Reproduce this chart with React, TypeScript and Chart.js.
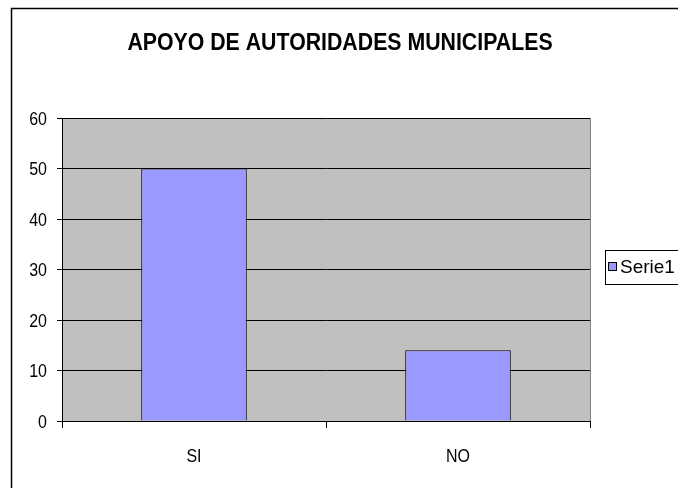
import React, { useEffect, useRef } from 'react';
import { Chart, registerables } from 'chart.js';

Chart.register(...registerables);

const categories = ['SI', 'NO'];
const serie1Values = [50, 14];
const seriesName = 'Serie1';
const chartTitle = 'APOYO DE AUTORIDADES MUNICIPALES';
const yMin = 0;
const yMax = 60;
const yStep = 10;

const FONT = "'Liberation Sans', Arial, sans-serif";
const STRETCH = 1.18;

function stretchedText(
  ctx: CanvasRenderingContext2D,
  text: string,
  x: number,
  baselineY: number,
  font: string,
  align: CanvasTextAlign,
  sy: number
) {
  ctx.save();
  ctx.font = font;
  ctx.textAlign = align;
  ctx.textBaseline = 'alphabetic';
  ctx.fillStyle = '#000000';
  ctx.translate(x, baselineY);
  ctx.scale(1, sy);
  ctx.fillText(text, 0, 0);
  ctx.restore();
}

export default function App() {
  const ref = useRef<HTMLCanvasElement>(null);

  useEffect(() => {
    const canvas = ref.current!;
    const decor = {
      id: 'decor',
      beforeDraw(chart: any) {
        const { ctx, chartArea: a } = chart;
        ctx.save();
        ctx.fillStyle = '#ffffff';
        ctx.fillRect(0, 0, chart.width, chart.height);
        ctx.strokeStyle = '#000000';
        ctx.lineWidth = 1.5;
        ctx.strokeRect(11.5, 8.5, 800, 600);
        ctx.fillStyle = '#c0c0c0';
        ctx.fillRect(a.left, a.top, a.right - a.left, a.bottom - a.top);
        ctx.restore();
      },
      afterDraw(chart: any) {
        const { ctx, chartArea: a } = chart;
        ctx.save();
        ctx.strokeStyle = '#808080';
        ctx.lineWidth = 1;
        ctx.beginPath();
        ctx.moveTo(a.right + 0.5, a.top);
        ctx.lineTo(a.right + 0.5, a.bottom);
        ctx.stroke();
        ctx.restore();

        // title
        stretchedText(ctx, chartTitle, 340, 50, `bold 21.3px ${FONT}`, 'center', 1.16);

        // y tick labels
        const ys = chart.scales.y;
        const tickSize = 16;
        const capHalf = (0.716 * tickSize * STRETCH) / 2;
        ys.ticks.forEach((t: any) => {
          const py = ys.getPixelForValue(t.value);
          stretchedText(ctx, String(t.value), a.left - 15, py + capHalf, `${tickSize}px ${FONT}`, 'right', STRETCH);
        });

        // x category labels
        const xs = chart.scales.x;
        categories.forEach((c, i) => {
          const px = xs.getPixelForValue(i);
          stretchedText(ctx, c, px, 462, `${tickSize}px ${FONT}`, 'center', STRETCH);
        });

        // legend
        ctx.save();
        ctx.fillStyle = '#ffffff';
        ctx.fillRect(605.5, 250.5, 120, 34);
        ctx.strokeStyle = '#000000';
        ctx.lineWidth = 1;
        ctx.strokeRect(605.5, 250.5, 120, 34);
        ctx.fillStyle = '#9999ff';
        ctx.fillRect(608.5, 262.5, 8, 8);
        ctx.strokeRect(608.5, 262.5, 8, 8);
        ctx.restore();
        stretchedText(ctx, seriesName, 620, 273, `19px ${FONT}`, 'left', 1.0);
      },
    };

    const chart = new Chart(canvas, {
      type: 'bar',
      data: {
        labels: categories,
        datasets: [
          {
            label: seriesName,
            data: serie1Values,
            backgroundColor: '#9999ff',
            borderColor: '#000000',
            borderWidth: 1,
            barPercentage: 0.4,
            categoryPercentage: 1,
          },
        ],
      },
      options: {
        responsive: false,
        animation: false,
        devicePixelRatio: 1,
        layout: { padding: { top: 118, right: 88, left: 0, bottom: 0 } },
        plugins: {
          legend: { display: false },
          title: { display: false },
          tooltip: { enabled: false },
        },
        scales: {
          x: {
            afterFit(s: any) {
              s.height = 67;
            },
            grid: {
              offset: true,
              drawOnChartArea: false,
              drawTicks: true,
              tickLength: 7,
              color: '#000000',
            },
            border: { color: '#000000', width: 1 },
            ticks: { display: false },
          },
          y: {
            min: yMin,
            max: yMax,
            afterFit(s: any) {
              s.width = 62;
            },
            grid: {
              color: '#000000',
              tickLength: 5,
              drawTicks: true,
            },
            border: { color: '#000000', width: 1 },
            ticks: { stepSize: yStep, display: false },
          },
        },
      },
      plugins: [decor],
    });
    return () => chart.destroy();
  }, []);

  return (
    <div style={{ position: 'absolute', left: 0, top: 0, width: 678, height: 488, overflow: 'hidden' }}>
      <canvas ref={ref} width={678} height={488} style={{ display: 'block' }} />
    </div>
  );
}
